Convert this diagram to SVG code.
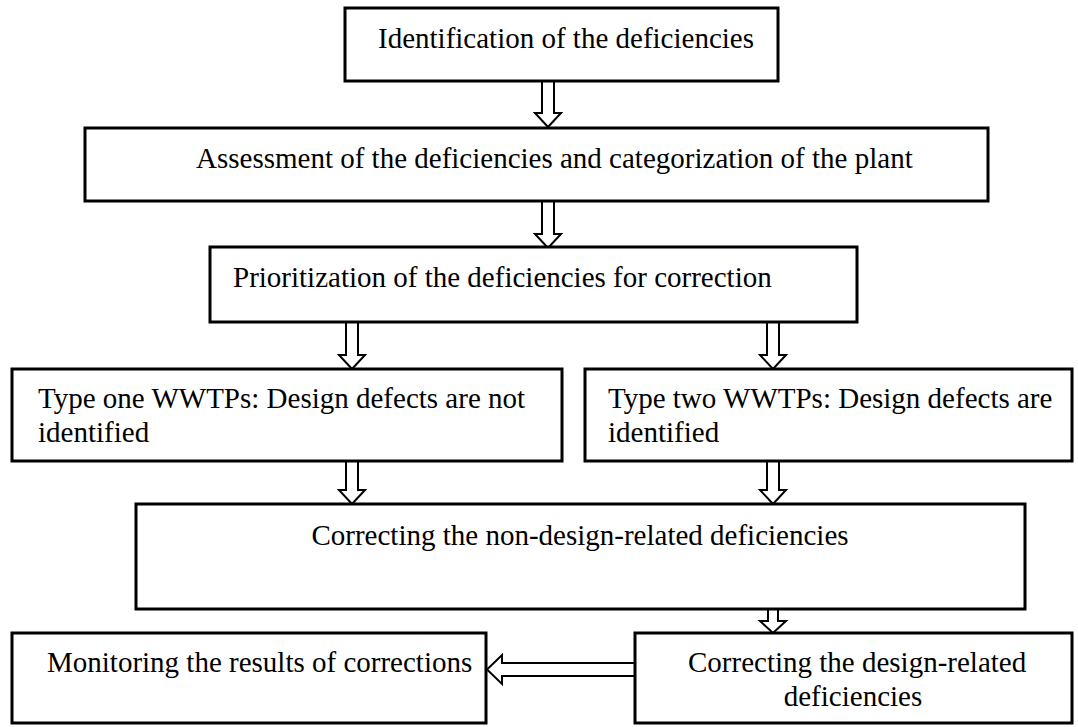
<svg xmlns="http://www.w3.org/2000/svg" width="1078" height="727" viewBox="0 0 1078 727">
<style>
.box{fill:#fff;stroke:#000;stroke-width:3}
.t{font-family:"Liberation Serif","Times New Roman",serif;font-size:29px;fill:#000}
.arr{fill:#fff;stroke:#000;stroke-width:2;stroke-linejoin:miter}
</style>
<rect width="1078" height="727" fill="#fff"/>
<g id="connectors">
<path class="arr" d="M542,81 V113 H535 L548,127 L561,113 H554 V81"/>
<path class="arr" d="M542,201 V234 H535 L548,248 L561,234 H554 V201"/>
<path class="arr" d="M346,322 V355 H339 L352,369 L365,355 H358 V322"/>
<path class="arr" d="M767,322 V355 H760 L773,369 L786,355 H779 V322"/>
<path class="arr" d="M346,461 V490 H339 L352,504 L365,490 H358 V461"/>
<path class="arr" d="M767,461 V490 H760 L773,504 L786,490 H779 V461"/>
<path class="arr" d="M768,609 V621 H760 L773,633 L786,621 H778 V609"/>
<path class="arr" d="M635,663 H502 V655 L487,669.5 L502,684 V676 H635"/>
</g>
<g id="n1"><rect class="box" x="345" y="8" width="433" height="73"/><text class="t" x="566" y="48" text-anchor="middle">Identification of the deficiencies</text></g>
<g id="n2"><rect class="box" x="85" y="128" width="903" height="73"/><text class="t" x="196" y="168">Assessment of the deficiencies and categorization of the plant</text></g>
<g id="n3"><rect class="box" x="210" y="247" width="647" height="75"/><text class="t" x="233" y="287">Prioritization of the deficiencies for correction</text></g>
<g id="n4"><rect class="box" x="12" y="369" width="550" height="92"/><text class="t" x="38" y="408">Type one WWTPs: Design defects are not</text><text class="t" x="38" y="442">identified</text></g>
<g id="n5"><rect class="box" x="585" y="369" width="487" height="92"/><text class="t" x="608" y="408">Type two WWTPs: Design defects are</text><text class="t" x="608" y="442">identified</text></g>
<g id="n6"><rect class="box" x="136" y="504" width="889" height="105"/><text class="t" x="580" y="545" text-anchor="middle">Correcting the non-design-related deficiencies</text></g>
<g id="n7"><rect class="box" x="12" y="633" width="474" height="90"/><text class="t" x="47" y="672">Monitoring the results of corrections</text></g>
<g id="n8"><rect class="box" x="635" y="633" width="437" height="90"/><text class="t" x="688" y="672">Correcting the design-related</text><text class="t" x="853" y="706" text-anchor="middle">deficiencies</text></g>
</svg>
